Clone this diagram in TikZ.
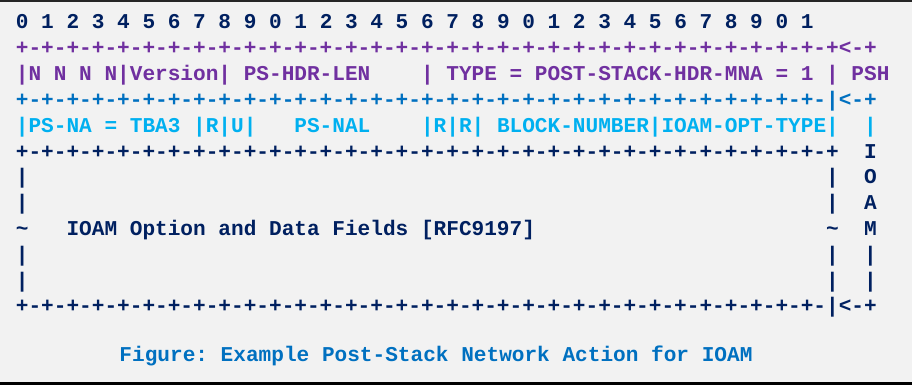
\documentclass[tikz,border=0pt]{standalone}
\usepackage{fontspec}
\newfontfamily\asciifont{Liberation Mono}
\usetikzlibrary{positioning}
\definecolor{navy}{HTML}{002060}
\definecolor{pshpurple}{HTML}{7030A0}
\definecolor{nablue}{HTML}{0070C0}
\definecolor{nacyan}{HTML}{00B0F0}
\definecolor{paper}{HTML}{F2F2F2}
% blank run of n character cells
\newcommand\pad[1]{\hskip#1\dimexpr0.6em\relax}
% 32 bit cells of a header line, closing char added per row
\def\ruler{+-+-+-+-+-+-+-+-+-+-+-+-+-+-+-+-+-+-+-+-+-+-+-+-+-+-+-+-+-+-+-+-}
\tikzset{
	asciirow/.style={anchor=base west,inner sep=0pt,font=\asciifont\bfseries\fontsize{21.1}{25.8}\selectfont},
	caption/.style={anchor=base,inner sep=0pt,text=nablue,font=\asciifont\bfseries\fontsize{21.1}{25.8}\selectfont}
}

\begin{document}
\begin{tikzpicture}[x=1pt,y=-1pt]
	\useasboundingbox (0,0) rectangle (912,385);
	\fill[paper] (0,0) rectangle (912,385);
	\draw[black!85,line width=2pt] (0,1.5) -- (912,1.5);
	\draw[black,line width=3pt] (0,383.5) -- (912,383.5);
	% bit numbers
	\node (bits) [asciirow,text=navy] at (15.7,29) {0~1~2~3~4~5~6~7~8~9~0~1~2~3~4~5~6~7~8~9~0~1~2~3~4~5~6~7~8~9~0~1};
	% post-stack header word
	\node (pshtop) [asciirow,text=pshpurple] at (15.7,54.8) {\ruler+<-+};
	\node (psh) [asciirow,text=pshpurple] at (15.7,80.6) {|N~N~N~N|Version|~PS-HDR-LEN~~~~|~TYPE~=~POST-STACK-HDR-MNA~=~1~|~PSH};
	% network action word
	\node (natop) [asciirow,text=nablue] at (15.7,106.4) {\ruler|<-+};
	\node (na) [asciirow,text=nacyan] at (15.7,132.2) {|PS-NA~=~TBA3~|R|U|~~~PS-NAL~~~~|R|R|~BLOCK-NUMBER|IOAM-OPT-TYPE|~~|};
	% IOAM data block
	\node (iotop) [asciirow,text=navy] at (15.7,158) {\ruler+\pad{2}I};
	\node (io1) [asciirow,text=navy] at (15.7,183.8) {|\pad{63}|\pad{2}O};
	\node (io2) [asciirow,text=navy] at (15.7,209.6) {|\pad{63}|\pad{2}A};
	\node (io3) [asciirow,text=navy] at (15.7,235.4) {\textasciitilde\pad{3}IOAM~Option~and~Data~Fields~[RFC9197]\pad{23}\textasciitilde\pad{2}M};
	\node (io4) [asciirow,text=navy] at (15.7,261.2) {|\pad{63}|\pad{2}|};
	\node (io5) [asciirow,text=navy] at (15.7,287) {|\pad{63}|\pad{2}|};
	\node (iobot) [asciirow,text=navy] at (15.7,312.8) {\ruler|<-+};
	\node (cap) [caption] at (436,361) {Figure:~Example~Post-Stack~Network~Action~for~IOAM};
\end{tikzpicture}
\end{document}
